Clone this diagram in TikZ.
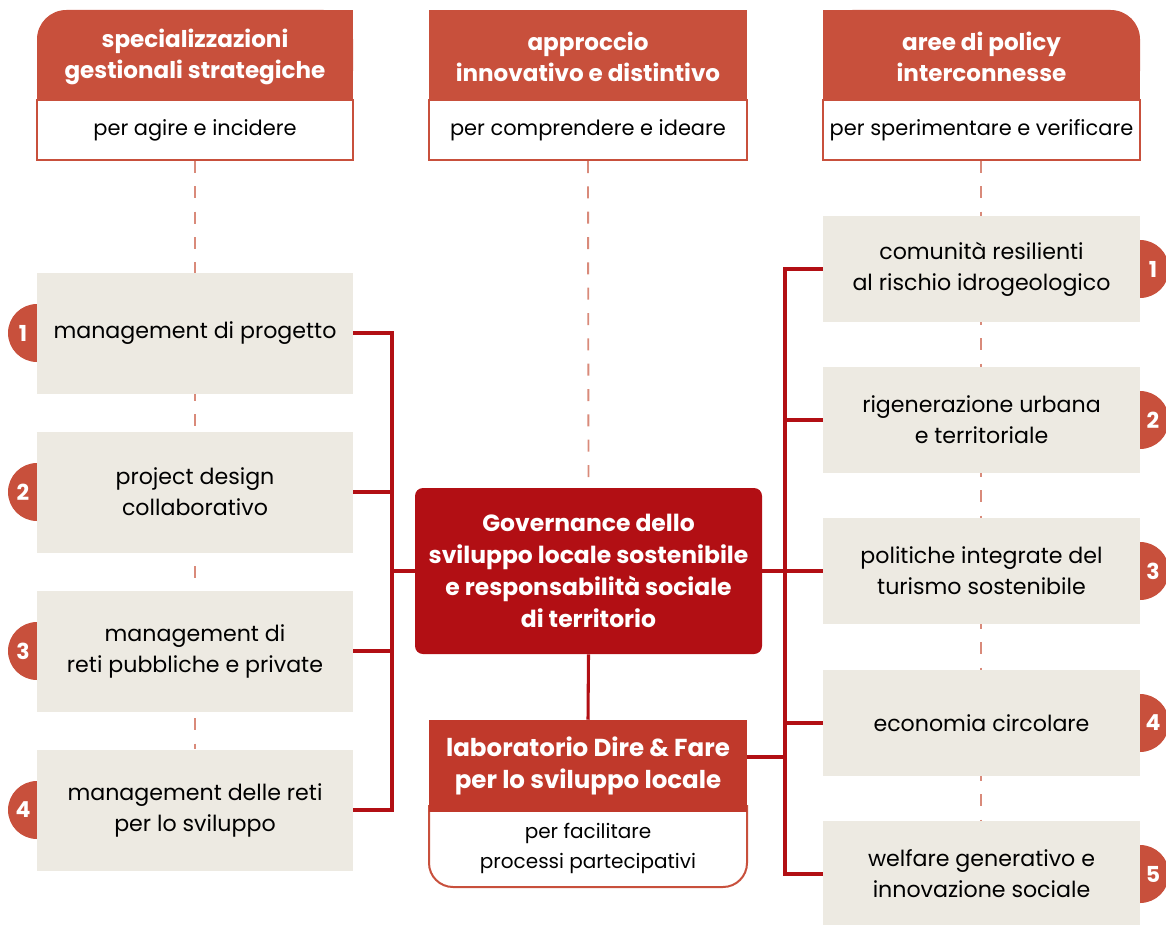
\documentclass[tikz,border=0pt]{standalone}
\usepackage{fontspec}
\setmainfont{Poppins}
\usetikzlibrary{calc,backgrounds}
\definecolor{hdr}{HTML}{C8503C}
\definecolor{govred}{HTML}{B20F14}
\definecolor{labred}{HTML}{C0392B}
\definecolor{conncol}{HTML}{B20F14}
\definecolor{dashcol}{HTML}{D98A7A}
\definecolor{greyfill}{HTML}{EDEAE2}
\newcommand\bxfont{\fontsize{16.6}{23.25}\selectfont}
\newcommand\sbfont{\fontsize{15.7}{22.5}\selectfont}
\newcommand\hdfont{\bfseries\fontsize{17.3}{23.5}\selectfont}
\begin{document}
\begin{tikzpicture}[x=0.75pt,y=-0.75pt,
  greybox/.style={fill=greyfill, minimum width=237pt, minimum height=90.75pt, align=center, inner sep=0pt, font=\bxfont, text=black},
  rbox/.style={greybox, minimum width=237.75pt, minimum height=79.5pt},
  numcirc/.style={circle, fill=hdr, minimum size=43.5pt, inner sep=0pt},
  numtxt/.style={text=white, inner sep=0pt, font=\bfseries\fontsize{16.5}{18}\selectfont},
  hdrtxt/.style={text=white, align=center, inner sep=0pt, font=\hdfont},
  subbox/.style={draw=hdr, line width=1.5pt, fill=white, minimum width=237pt, minimum height=45pt, inner sep=0pt, font=\sbfont, align=center},
  conn/.style={draw=conncol, line width=2.3pt},
  dashline/.style={draw=dashcol, line width=1.4pt, dash pattern=on 9pt off 10pt}
]
\useasboundingbox (0,0) rectangle (1166,924);

% ---------- headers ----------
\fill[hdr, rounded corners=22pt] (37,10) rectangle (353,100);
\fill[hdr] (100,10) rectangle (353,100);
\fill[hdr] (37,60) rectangle (353,100);
\node[hdrtxt] (h1) at (195,57) {specializzazioni\\gestionali strategiche};
\node[subbox] (s1) at (195,130) {per agire e incidere};

\fill[hdr] (429,10) rectangle (747,100);
\node[hdrtxt] (h2) at (588,57) {approccio\\innovativo e distintivo};
\node[subbox, minimum width=238.5pt] (s2) at (588,130) {per comprendere e ideare};

\fill[hdr, rounded corners=22pt] (823,10) rectangle (1140,100);
\fill[hdr] (823,10) rectangle (1080,100);
\fill[hdr] (823,60) rectangle (1140,100);
\node[hdrtxt] (h3) at (981.5,57) {aree di policy\\interconnesse};
\node[subbox, minimum width=237.75pt] (s3) at (981.5,130) {per sperimentare e verificare};

% ---------- number circles (behind boxes) ----------
\foreach \n/\y in {1/333,2/492,3/651,4/810}{
  \node[numcirc] (lc\n) at (37,\y) {};
}
\foreach \n/\y in {1/269,2/420,3/571,4/723,5/874}{
  \node[numcirc] (rc\n) at (1140,\y) {};
}

% ---------- left boxes ----------
\node[greybox] (l1) at (195,333) {management di progetto};
\node[greybox] (l2) at (195,492) {project design\\collaborativo};
\node[greybox] (l3) at (195,651) {management di\\reti pubbliche e private};
\node[greybox] (l4) at (195,810) {management delle reti\\per lo sviluppo};

% ---------- right boxes ----------
\node[rbox] (r1) at (981.5,269) {comunità resilienti\\al rischio idrogeologico};
\node[rbox] (r2) at (981.5,420) {rigenerazione urbana\\e territoriale};
\node[rbox] (r3) at (981.5,571) {politiche integrate del\\turismo sostenibile};
\node[rbox] (r4) at (981.5,723) {economia circolare};
\node[rbox] (r5) at (981.5,874) {welfare generativo e\\innovazione sociale};

% ---------- numbers ----------
\foreach \n/\y in {1/333,2/492,3/651,4/810}{
  \node[numtxt] (ln\n) at (23,\y) {\n};
}
\foreach \n/\y in {1/269,2/420,3/571,4/723,5/874}{
  \node[numtxt] (rn\n) at (1153,\y) {\n};
}

% ---------- centre ----------
\node[fill=govred, rounded corners=6pt, minimum width=260.25pt, minimum height=124.5pt, inner sep=0pt,
      text=white, align=center, font=\bfseries\fontsize{17.6}{24}\selectfont] (gov) at (588.5,571)
      {Governance dello\\sviluppo locale sostenibile\\e responsabilità sociale\\di territorio};

\draw[draw=hdr, line width=1.5pt, fill=white, rounded corners=18pt] (429,805) -- (429,887) -- (747,887) -- (747,805);
\node[fill=labred, minimum width=238.5pt, minimum height=69pt, inner sep=0pt, text=white, align=center,
      font=\bfseries\fontsize{18.4}{24}\selectfont] (lab) at (588,766) {laboratorio Dire \& Fare\\per lo sviluppo locale};
\node[align=center, inner sep=0pt, font=\fontsize{15}{22.5}\selectfont] (labsub) at (588,848) {per facilitare\\processi partecipativi};

% ---------- dashed guide lines ----------
\begin{scope}[on background layer]
  \draw[dashline] (s1.south) -- (l4.north);
  \draw[dashline] (s2.south) -- (gov.north);
  \draw[dashline] ([xshift=-0.375pt]s3.south) -- ([xshift=-0.375pt]r5.north);
\end{scope}

% ---------- connectors ----------
\coordinate (lbus) at (392,0);
\coordinate (rbus) at (785,0);
\draw[conn] (l1.east) -- (l1.east -| lbus) -- (l4.east -| lbus) -- (l4.east);
\draw[conn] (l2.east) -- (l2.east -| lbus);
\draw[conn] (l3.east) -- (l3.east -| lbus);
\draw[conn] (gov.west) -- (gov.west -| lbus);
\draw[conn] (r1.west) -- (r1.west -| rbus) -- (r5.west -| rbus) -- (r5.west);
\draw[conn] (r2.west) -- (r2.west -| rbus);
\draw[conn] (r3.west) -- (r3.west -| rbus);
\draw[conn] (r4.west) -- (r4.west -| rbus);
\draw[conn] (gov.east) -- (gov.east -| rbus);
\draw[conn] ($(lab.east)+(0,-9)$) -- ($(lab.east -| rbus)+(0,-9)$);
\draw[conn] (gov.south) -- (lab.north);
\end{tikzpicture}
\end{document}
